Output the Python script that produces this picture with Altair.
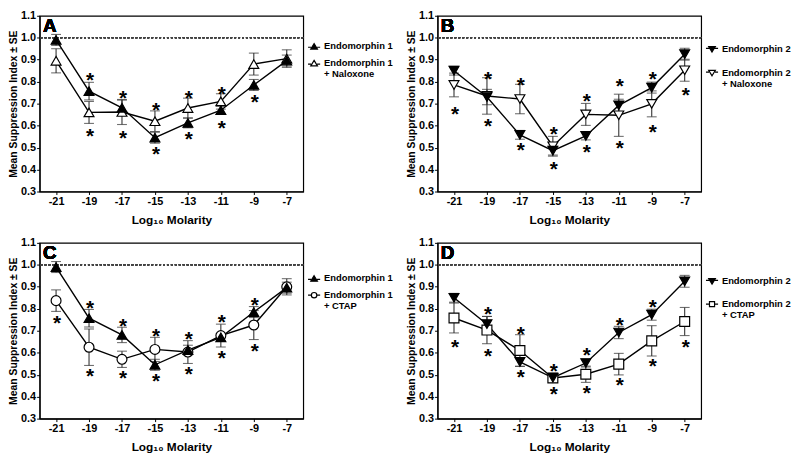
import altair as alt
import pandas as pd

# ---------------- data ----------------
log_molarity = [-21, -19, -17, -15, -13, -11, -9, -7]
y_ticks = [0.3, 0.4, 0.5, 0.6, 0.7, 0.8, 0.9, 1.0, 1.1]

em1_mean = [0.99, 0.757, 0.681, 0.545, 0.612, 0.67, 0.785, 0.896]
em1_se = [0.025, 0.04, 0.035, 0.025, 0.022, 0.018, 0.025, 0.025]

em1_nal_mean = [0.895, 0.66, 0.662, 0.62, 0.68, 0.71, 0.88, 0.905]
em1_nal_se = [0.055, 0.05, 0.057, 0.047, 0.045, 0.035, 0.05, 0.04]

em2_mean = [0.85, 0.73, 0.558, 0.486, 0.553, 0.692, 0.773, 0.925]
em2_se = [0.02, 0.035, 0.02, 0.02, 0.018, 0.028, 0.025, 0.027]

em2_nal_mean = [0.785, 0.735, 0.721, 0.506, 0.651, 0.647, 0.699, 0.852]
em2_nal_se = [0.054, 0.083, 0.067, 0.045, 0.05, 0.096, 0.059, 0.05]

em1_ctap_mean = [0.837, 0.625, 0.57, 0.615, 0.603, 0.678, 0.726, 0.9]
em1_ctap_se = [0.049, 0.083, 0.037, 0.055, 0.052, 0.052, 0.066, 0.037]

em2_ctap_mean = [0.758, 0.703, 0.61, 0.485, 0.502, 0.548, 0.654, 0.742]
em2_ctap_se = [0.068, 0.062, 0.072, 0.02, 0.037, 0.049, 0.069, 0.064]

# significance asterisks (x, y) for each panel
stars_a_x = [-19, -19, -17, -17, -15, -15, -13, -13, -11, -11, -9]
stars_a_y = [0.828, 0.574, 0.749, 0.566, 0.694, 0.492, 0.746, 0.559, 0.764, 0.611, 0.731]
stars_b_x = [-21, -19, -19, -17, -17, -15, -15, -13, -13, -11, -11, -9, -9, -7]
stars_b_y = [0.677, 0.835, 0.622, 0.807, 0.509, 0.583, 0.424, 0.736, 0.501, 0.803, 0.521, 0.832, 0.595, 0.761]
stars_c_x = [-21, -19, -19, -17, -17, -15, -15, -13, -13, -11, -11, -9, -9]
stars_c_y = [0.756, 0.825, 0.516, 0.745, 0.508, 0.70, 0.493, 0.684, 0.523, 0.763, 0.60, 0.84, 0.63]
stars_d_x = [-21, -19, -19, -17, -17, -15, -15, -13, -13, -11, -11, -9, -9, -7]
stars_d_y = [0.65, 0.797, 0.607, 0.708, 0.511, 0.539, 0.433, 0.613, 0.44, 0.75, 0.477, 0.831, 0.561, 0.646]

FONT = "Liberation Sans"
W, H = 267, 178

# legend symbols: marker with a short connecting line on each side
LEG_SYMBOL = {
    "triangle-up": "M-1,0.15 L-0.5,0.15 M0.5,0.15 L1,0.15 M0,-0.45 L0.55,0.45 L-0.55,0.45 Z",
    "triangle-down": "M-1,-0.15 L-0.5,-0.15 M0.5,-0.15 L1,-0.15 M0,0.45 L0.55,-0.45 L-0.55,-0.45 Z",
    "circle": "M-1,0 L-0.45,0 M0.45,0 L1,0 M0.45,0 A0.45,0.45 0 1,1 -0.45,0 A0.45,0.45 0 1,1 0.45,0 Z",
    "square": "M-1,0 L-0.42,0 M0.42,0 L1,0 M-0.42,-0.42 L0.42,-0.42 L0.42,0.42 L-0.42,0.42 Z",
}


def panel(letter, name1, mean1, se1, shape1, name2, mean2, se2, shape2, sx, sy, leg_y, row_pad):
    rows = []
    # open series first so that filled series is drawn on top
    for name, mean, se in [(name2, mean2, se2), (name1, mean1, se1)]:
        for x, m, s in zip(log_molarity, mean, se):
            rows.append({"x": x, "mean": m, "lo": m - s, "hi": m + s, "series": name})
    df = pd.DataFrame(rows)
    stars = pd.DataFrame({"x": sx, "y": sy})
    dom = [name1, name2]

    xs = alt.Scale(domain=[-22, -6], nice=False, zero=False)
    ys = alt.Scale(domain=[0.3, 1.1], nice=False, zero=False)
    xax = alt.Axis(values=log_molarity, tickCount=len(log_molarity), labelExpr="'' + datum.value",
                   labelOverlap=False, title="Log\u2081\u2080 Molarity", titlePadding=8)
    yax = alt.Axis(values=y_ticks, tickCount=len(y_ticks), format=".1f",
                   labelOverlap=False, title="Mean Suppression Index \u00b1 SE", titlePadding=2)

    base = alt.Chart(df)

    ref = alt.Chart(df).mark_rule(color="#444", strokeDash=[2, 2], strokeWidth=1).encode(
        y=alt.datum(1.0, scale=ys, axis=yax))

    err = base.mark_rule(color="#333", strokeWidth=1.1).encode(
        x=alt.X("x:Q", scale=xs, axis=xax),
        y=alt.Y("lo:Q", scale=ys, axis=yax),
        y2="hi:Q")
    cap_lo = base.mark_tick(orient="horizontal", size=10, thickness=1.1, color="#333").encode(
        x=alt.X("x:Q", scale=xs), y=alt.Y("lo:Q", scale=ys))
    cap_hi = base.mark_tick(orient="horizontal", size=10, thickness=1.1, color="#333").encode(
        x=alt.X("x:Q", scale=xs), y=alt.Y("hi:Q", scale=ys))

    line = base.mark_line(color="black", strokeWidth=1.4).encode(
        x=alt.X("x:Q", scale=xs), y=alt.Y("mean:Q", scale=ys), detail="series:N")

    pts = base.mark_point(stroke="black", strokeWidth=1.2, opacity=1, fillOpacity=1, size=100).encode(
        x=alt.X("x:Q", scale=xs), y=alt.Y("mean:Q", scale=ys),
        shape=alt.Shape("series:N", scale=alt.Scale(domain=dom, range=[shape1, shape2]), legend=None),
        fill=alt.Fill("series:N", scale=alt.Scale(domain=dom, range=["black", "white"]), legend=None))

    legend = alt.Legend(title=None, orient="none", legendX=W + 4, legendY=leg_y, rowPadding=row_pad,
                        labelExpr="split(datum.label, '|')")
    leg = base.transform_filter("false").mark_point(opacity=1, fillOpacity=1, strokeWidth=1.2).encode(
        x=alt.X("x:Q", scale=xs), y=alt.Y("mean:Q", scale=ys),
        shape=alt.Shape("series:N", scale=alt.Scale(domain=dom, range=[LEG_SYMBOL[shape1], LEG_SYMBOL[shape2]]),
                        legend=legend),
        fill=alt.Fill("series:N", scale=alt.Scale(domain=dom, range=["black", "white"]), legend=legend),
        stroke=alt.Stroke("series:N", scale=alt.Scale(domain=dom, range=["black", "black"]), legend=legend))

    star = alt.Chart(stars).mark_text(text="*", fontSize=21, fontWeight="bold", font=FONT,
                                      baseline="alphabetic", dy=12, dx=1, color="black").encode(
        x=alt.X("x:Q", scale=xs), y=alt.Y("y:Q", scale=ys))

    lab = alt.Chart(stars).mark_text(text=letter, fontSize=19, fontWeight="bold", font=FONT,
                                     align="left", baseline="top", dy=1, color="black").encode(
        x=alt.datum(-21.8), y=alt.datum(1.1))

    return alt.layer(ref, err, cap_lo, cap_hi, line, pts, leg, star, lab).resolve_scale(
        shape="independent", fill="independent", stroke="independent"
    ).properties(width=W, height=H)


N = "\u00a0\u00a0\u00a0"
pa = panel("A", "Endomorphin 1", em1_mean, em1_se, "triangle-up",
           "Endomorphin 1|" + N + "+ Naloxone", em1_nal_mean, em1_nal_se, "triangle-up",
           stars_a_x, stars_a_y, 24, 4)
pb = panel("B", "Endomorphin 2", em2_mean, em2_se, "triangle-down",
           "Endomorphin 2|" + N + "+ Naloxone", em2_nal_mean, em2_nal_se, "triangle-down",
           stars_b_x, stars_b_y, 27, 11)
pc = panel("C", "Endomorphin 1", em1_mean, em1_se, "triangle-up",
           "Endomorphin 1|" + N + "+ CTAP", em1_ctap_mean, em1_ctap_se, "circle",
           stars_c_x, stars_c_y, 29, 4)
pd_ = panel("D", "Endomorphin 2", em2_mean, em2_se, "triangle-down",
            "Endomorphin 2|" + N + "+ CTAP", em2_ctap_mean, em2_ctap_se, "square",
            stars_d_x, stars_d_y, 32, 10)

row1 = alt.hconcat(pa, pb, spacing=12).resolve_scale(shape="independent", fill="independent",
                                                     stroke="independent")
row2 = alt.hconcat(pc, pd_, spacing=12).resolve_scale(shape="independent", fill="independent",
                                                      stroke="independent")

chart = alt.vconcat(row1, row2, spacing=10).properties(
    padding={"left": 0, "top": -2, "right": 0, "bottom": 0}
).configure(font=FONT, background="white").configure_view(
    stroke="black", strokeWidth=1.2
).configure_axis(
    grid=False, domainColor="black", domainWidth=1.2, tickColor="black", tickSize=3,
    labelFont=FONT, labelFontWeight="bold", labelFontSize=11, labelColor="black",
    titleFont=FONT, titleFontWeight="bold", titleFontSize=12, titleColor="black", labelPadding=1,
    labelOverlap=False
).configure_axisY(titleFontSize=10.5).configure_legend(
    labelFont=FONT, labelFontWeight="bold", labelFontSize=9.5, labelColor="black",
    symbolSize=150, symbolStrokeWidth=1.2, padding=0, labelOffset=3
)

chart.save("out.html", embed_options={"renderer": "svg", "actions": False})
